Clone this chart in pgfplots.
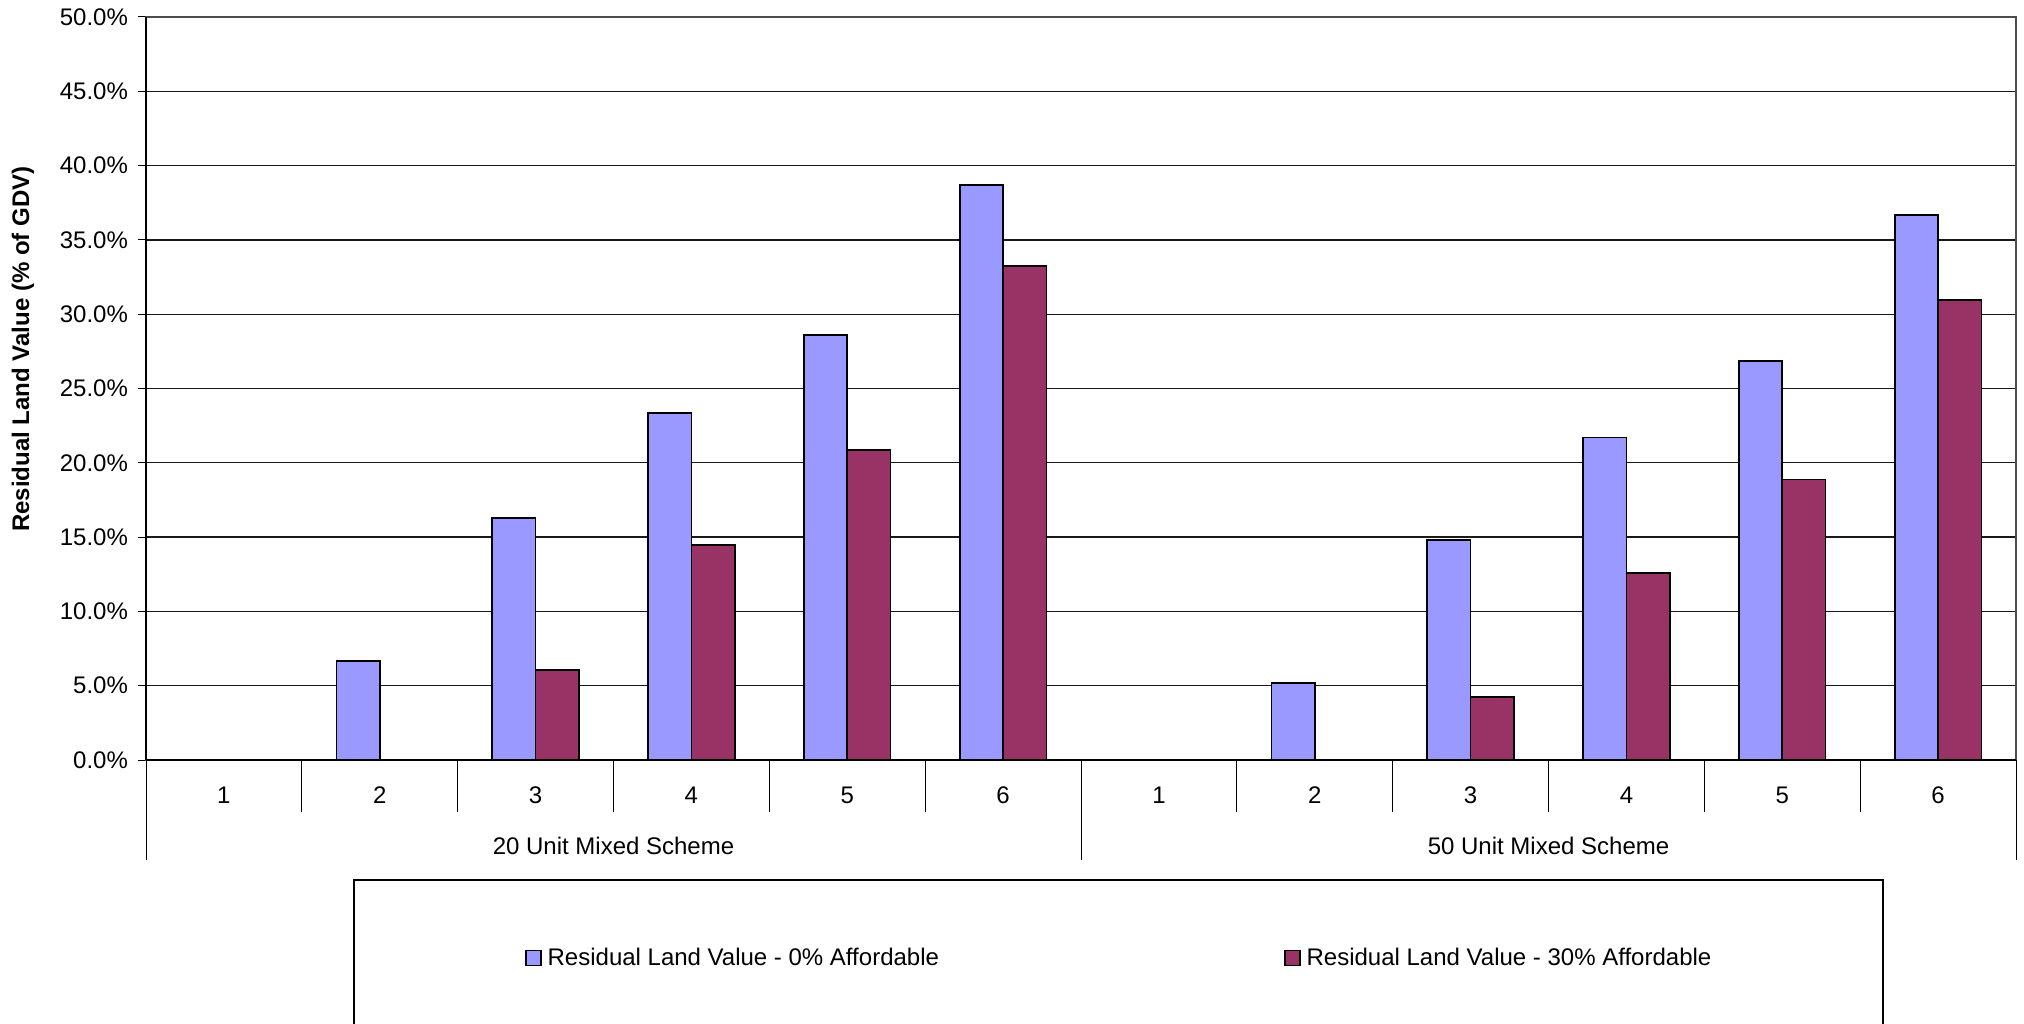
\documentclass[border=0pt]{standalone}
\usepackage{fontspec}
\setmainfont{Liberation Sans}
\usepackage{pgfplots}
\pgfplotsset{compat=1.18}
\definecolor{cblue}{HTML}{9999FF}
\definecolor{cred}{HTML}{993366}
\begin{document}
\begin{tikzpicture}
\path[use as bounding box, clip] (0,0) rectangle (1012pt,511.5pt);
\begin{axis}[
  at={(73pt,131.5pt)}, anchor=south west,
  scale only axis, width=935pt, height=371.5pt,
  ybar=0pt, bar width=0.278,
  xmin=0, xmax=12, ymin=0, ymax=50,
  xtick={0.5,1.5,2.5,3.5,4.5,5.5,6.5,7.5,8.5,9.5,10.5,11.5},
  xticklabels={1,2,3,4,5,6,1,2,3,4,5,6},
  minor xtick={1,2,3,4,5,7,8,9,10,11},
  minor tick length=26pt,
  major tick length=4pt,
  tick align=outside,
  xtick style={draw=none},
  minor x tick style={draw=black, line width=0.5pt},
  ytick={0,5,...,50},
  ytick pos=left, xtick pos=bottom,
  /pgf/number format/assume math mode=true,
  yticklabel={\pgfmathprintnumber[fixed,fixed zerofill,precision=1]{\tick}\%},
  ticklabel style={font=\fontsize{12}{14}\selectfont},
  x tick label style={anchor=center, yshift=-13.5pt},
  y tick label style={xshift=-1.5pt},
  ymajorgrids, major grid style={black!90, line width=0.65pt},
  axis line style={black!70, line width=0.65pt},
  y tick style={black, line width=0.5pt},
  ylabel={Residual Land Value (\% of GDV)},
  every axis y label/.style={at={(axis description cs:-0.0658,0.553)}, rotate=90, anchor=center, font=\fontsize{12}{14}\selectfont\bfseries},
  legend columns=2,
  legend style={draw=none, fill=none, at={(0.5215,-0.2665)}, anchor=center,
    font=\fontsize{12}{14}\selectfont, column sep=0pt,
    /tikz/column 2/.style={column sep=169.5pt},
    nodes={inner xsep=3pt}},
  legend cell align=left,
  legend image code/.code={\draw[#1, draw=black, line width=0.8pt] (0pt,-3.75pt) rectangle (7.5pt,3.75pt);},
  clip=false,
  after end axis/.code={
    \draw[black, line width=0.5pt] (axis cs:0,0) -- ++(0,-50pt);
    \draw[black, line width=0.5pt] (axis cs:6,0) -- ++(0,-50pt);
    \draw[black, line width=0.5pt] (axis cs:12,0) -- ++(0,-50pt);
    \draw[black, line width=0.8pt] (axis cs:0,0) -- (axis cs:12,0);
    \draw[black, line width=0.8pt] (axis cs:0,0) -- (axis cs:0,50);
    \node[font=\fontsize{12}{14}\selectfont, anchor=center] at ([yshift=-43pt]axis cs:3,0) {20 Unit Mixed Scheme};
    \node[font=\fontsize{12}{14}\selectfont, anchor=center] at ([yshift=-43pt]axis cs:9,0) {50 Unit Mixed Scheme};
  },
]
\addplot[fill=cblue, draw=black, line width=0.9pt] coordinates {
  (1.5,6.65) (2.5,16.3) (3.5,23.37) (4.5,28.6) (5.5,38.68)
  (7.5,5.2) (8.5,14.8) (9.5,21.7) (10.5,26.83) (11.5,36.7)};
\addplot[fill=cred, draw=black, line width=0.9pt] coordinates {
  (2.5,6.05) (3.5,14.45) (4.5,20.87) (5.5,33.23)
  (8.5,4.23) (9.5,12.6) (10.5,18.88) (11.5,30.95)};
\legend{Residual Land Value - 0\% Affordable, Residual Land Value - 30\% Affordable}
\end{axis}
\draw[black, line width=0.6pt] (177pt,-1.5pt) rectangle (941.5pt,71.5pt);
\end{tikzpicture}
\end{document}
